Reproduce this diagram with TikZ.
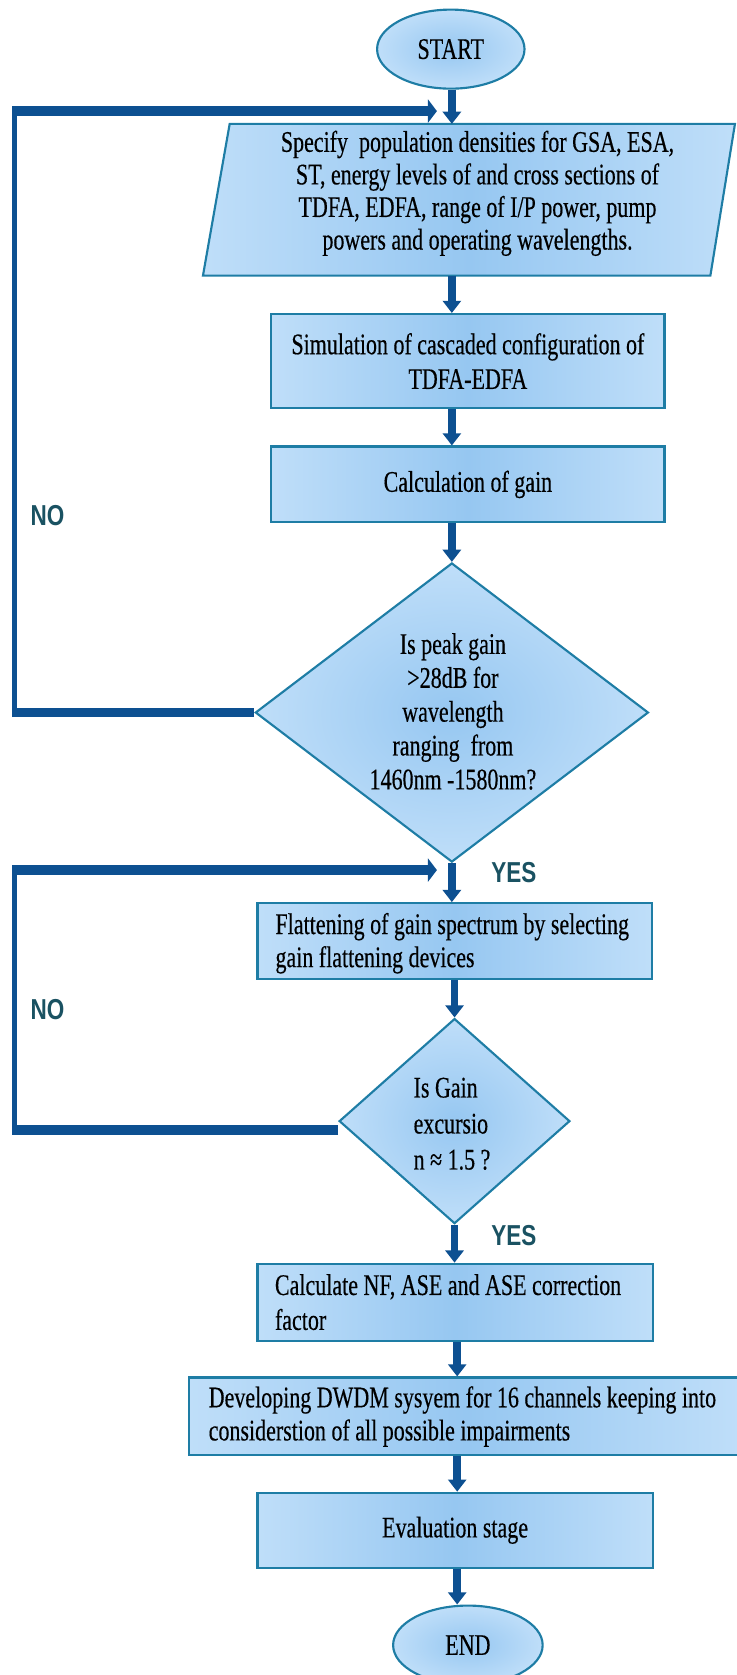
\documentclass[tikz,border=0pt]{standalone}
\usepackage{fontspec}
\setmainfont{Liberation Serif}[FakeStretch=0.735,FakeBold=0.35]
\newfontfamily\lblfont{Liberation Sans}[FakeStretch=0.78]
\usetikzlibrary{arrows.meta,shapes.geometric}
\definecolor{arrowblue}{RGB}{13,80,145}
\definecolor{edgeblue}{RGB}{30,125,165}
\definecolor{lbltext}{RGB}{26,82,98}
\definecolor{cin}{RGB}{150,199,241}
\definecolor{cmid}{RGB}{196,225,250}
\definecolor{cout}{RGB}{238,246,254}
\pgfdeclarehorizontalshading{hshade}{100bp}{color(0bp)=(cout); color(22bp)=(cmid); color(50bp)=(cin); color(78bp)=(cmid); color(100bp)=(cout)}
\pgfdeclareradialshading{rshade}{\pgfpoint{0bp}{0bp}}{color(0bp)=(cin); color(28bp)=(cmid); color(50bp)=(cout); color(71bp)=(cout)}
\begin{document}
\begin{tikzpicture}[x=0.5pt,y=-0.5pt,
  flowbox/.style={rectangle, draw=edgeblue, line width=1pt, shading=hshade, inner sep=0pt},
  term/.style={ellipse, draw=edgeblue, line width=1pt, shading=rshade, inner sep=0pt,
               font=\fontsize{14pt}{16pt}\selectfont},
  decision/.style={diamond, draw=edgeblue, line width=1pt, shading=rshade, inner sep=0pt},
  txt/.style={inner sep=0pt, font=\fontsize{14pt}{#1}\selectfont},
  txt/.default=15.5pt,
  vflow/.style={draw=arrowblue, line width=3.6pt, -{Triangle[width=8.4pt,length=5.7pt]}},
  hflow/.style={draw=arrowblue, line width=4.6pt},
  hflowarrow/.style={draw=arrowblue, line width=4.6pt, -{Triangle[width=10.8pt,length=4.2pt]}},
  vline/.style={draw=arrowblue, line width=2.4pt, shorten <=-2.2pt, shorten >=-2.2pt},
  lbl/.style={inner sep=0pt, text=lbltext, font=\lblfont\bfseries\fontsize{13.5pt}{16pt}\selectfont}]
\useasboundingbox (0,0) rectangle (689,1568);

% axis helpers
\coordinate (ax1) at (423,0);
\coordinate (ax2) at (428,0);
\coordinate (vx) at (11.3,0);
\coordinate (vc) at (13.6,0);

% START
\node[term, minimum width=69pt, minimum height=37pt] (start) at (422,46) {START};

% parallelogram (input)
\coordinate (pA) at (215,116);
\coordinate (pB) at (688,116);
\coordinate (pC) at (665,258);
\coordinate (pD) at (190,258);
\path[draw=edgeblue, line width=1pt, shading=hshade] (pA) -- (pB) -- (pC) -- (pD) -- cycle;
\coordinate (paraTop) at (423,116);
\coordinate (paraBot) at (423,258);
\node[txt=15.25pt, align=center] (para) at (447,181)
  {Specify\ \ population densities for GSA, ESA,\\ST, energy levels of and cross sections of\\TDFA, EDFA, range of I/P power, pump\\powers and operating wavelengths.};

% process boxes
\node[flowbox, minimum width=184pt, minimum height=44pt, align=center,
      font=\fontsize{14pt}{16.25pt}\selectfont] (b2) at (438,338)
  {Simulation of cascaded configuration of\\TDFA-EDFA};
\node[flowbox, minimum width=184pt, minimum height=35.5pt,
      font=\fontsize{14pt}{15.5pt}\selectfont] (b3) at (438,453.5) {Calculation of gain};

% decision 1
\node[decision, minimum width=184pt, minimum height=140pt] (d1) at (423,667) {};
\node[txt=15.85pt, align=center] (d1t) at (424,666)
  {Is peak gain\\>28dB for\\wavelength\\ranging\ \ from\\1460nm -1580nm?};

% flattening box
\node[flowbox, minimum width=184.5pt, minimum height=35.5pt] (b4) at (425.5,881) {};
\node[txt=15.5pt, align=left, anchor=west] (b4t) at (257.5,883)
  {Flattening of gain spectrum by selecting\\gain flattening devices};

% decision 2
\node[decision, minimum width=108pt, minimum height=96pt] (d2) at (425.5,1049.5) {};
\node[txt=16.85pt, align=left, anchor=west] (d2t) at (386.8,1052)
  {Is Gain\\excursio\\n ≈ 1.5 ?};

% remaining boxes
\node[flowbox, minimum width=185pt, minimum height=36pt] (b5) at (426,1219) {};
\node[txt=16.35pt, align=left, anchor=west] (b5t) at (257,1219)
  {Calculate NF, ASE and ASE correction\\factor};
\node[flowbox, minimum width=259pt, minimum height=36.25pt] (b6) at (436,1325.75) {};
\node[txt=15.5pt, align=left, anchor=west] (b6t) at (195,1326)
  {Developing DWDM sysyem for 16 channels keeping into\\considerstion of all possible impairments};
\node[flowbox, minimum width=185pt, minimum height=35.1pt,
      font=\fontsize{14pt}{15.5pt}\selectfont] (b7) at (426,1432.5) {Evaluation stage};

% END
\node[term, minimum width=70pt, minimum height=37pt] (end) at (438,1540) {END};

% main flow arrows
\draw[vflow] (start.south -| ax1) -- (paraTop);
\draw[vflow] (paraBot) -- (b2.north -| ax1);
\draw[vflow] (b2.south -| ax1) -- (b3.north -| ax1);
\draw[vflow] (b3.south -| ax1) -- (d1.north);
\draw[vflow] (d1.south) -- (b4.north -| ax1);
\draw[vflow] (b4.south -| d2.north) -- (d2.north);
\draw[vflow] (d2.south) -- (d2.south |- b5.north);
\draw[vflow] (b5.south -| ax2) -- (b6.north -| ax2);
\draw[vflow] (b6.south -| ax2) -- (b7.north -| ax2);
\draw[vflow] (b7.south -| ax2) -- (end.north -| ax2);

% loop 1 (NO from decision 1)
\coordinate (tip1) at (409,104);
\draw[vline] (d1.west -| vc) -- (tip1 -| vc);
\draw[hflow] (d1.west) -- (d1.west -| vx);
\draw[hflowarrow] (tip1 -| vx) -- (tip1);

% loop 2 (NO from decision 2)
\coordinate (tip2) at (409,814.5);
\coordinate (d2w) at ([yshift=-4.25pt]d2.west);
\draw[vline] (d2w -| vc) -- (tip2 -| vc);
\draw[hflow] (d2w) -- (d2w -| vx);
\draw[hflowarrow] (tip2 -| vx) -- (tip2);

% labels
\node[lbl] (no1) at (44.5,483) {NO};
\node[lbl] (yes1) at (481,816.5) {YES};
\node[lbl] (no2) at (44.5,945) {NO};
\node[lbl] (yes2) at (481,1157) {YES};
\end{tikzpicture}
\end{document}
